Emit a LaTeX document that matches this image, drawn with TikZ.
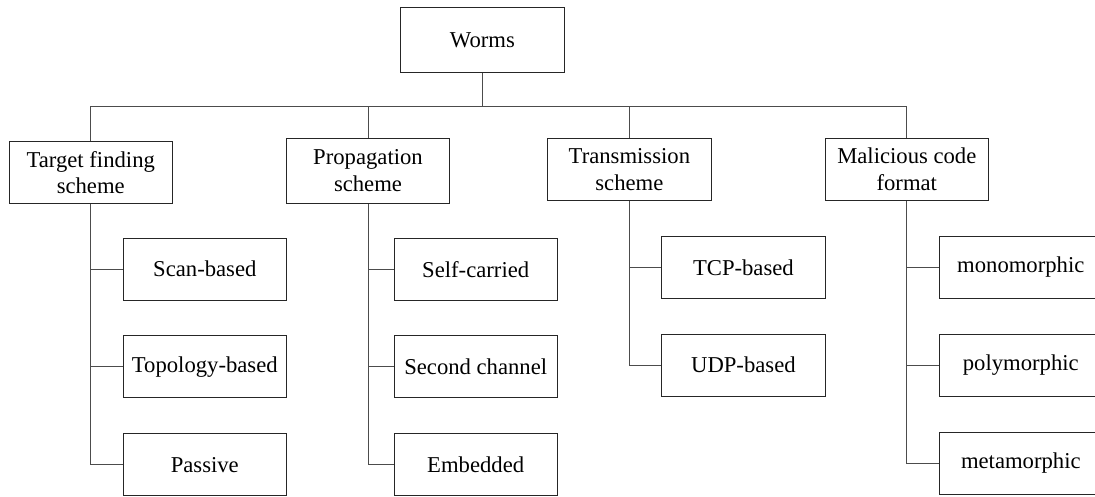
\documentclass[tikz,border=0pt]{standalone}
\usepackage{fontspec}
\setmainfont{Liberation Serif}
\begin{document}
\begin{tikzpicture}[x=0.75pt,y=-0.75pt,
  box/.style={draw=black!85, line width=0.75pt, minimum width=122.4pt, minimum height=46.5pt, inner sep=0pt, align=center, font=\fontsize{17}{20}\selectfont},
  link/.style={draw=black!70, line width=0.75pt}]
\useasboundingbox (0,0) rectangle (1095,496);
\begin{scope}
\clip (0,0) rectangle (1095,496);
\node[box, minimum width=122.5pt, minimum height=48.5pt] (worms) at (482.4,40.3) {Worms};
\node[box] (tf) at (90.75,172.7) {Target finding\\scheme};
\node[box, minimum height=49.2pt] (pr) at (368,170.85) {Propagation\\scheme};
\node[box] (tr) at (629.4,169.3) {Transmission\\scheme};
\node[box] (mc) at (906.8,169.3) {Malicious code\\format};
\coordinate (bus) at (0,106);

\node[box] (scan) at (204.8,269.2) {Scan-based};
\node[box] (topo) at (204.8,366.8) {Topology-based};
\node[box] (pass) at (204.8,464.7) {Passive};

\node[box] (self) at (475.7,269.2) {Self-carried};
\node[box] (sec) at (475.7,366.8) {Second channel};
\node[box] (emb) at (475.7,464.7) {Embedded};

\node[box] (tcp) at (743.4,267.3) {TCP-based};
\node[box] (udp) at (743.4,365.2) {UDP-based};

\node[box] (mono) at (1020.8,267.3) {monomorphic};
\node[box] (poly) at (1020.8,365.2) {polymorphic};
\node[box] (meta) at (1020.8,463.3) {metamorphic};

\draw[link] (worms.south) -- (worms.south |- bus);
\draw[link] (tf.north) -- (tf.north |- bus) -- (mc.north |- bus) -- (mc.north);
\draw[link] (pr.north) -- (pr.north |- bus);
\draw[link] (tr.north) -- (tr.north |- bus);

\draw[link] (tf.south) |- (pass.west);
\draw[link] (tf.south |- scan.west) -- (scan.west);
\draw[link] (tf.south |- topo.west) -- (topo.west);

\draw[link] (pr.south) |- (emb.west);
\draw[link] (pr.south |- self.west) -- (self.west);
\draw[link] (pr.south |- sec.west) -- (sec.west);

\draw[link] (tr.south) |- (udp.west);
\draw[link] (tr.south |- tcp.west) -- (tcp.west);

\draw[link] (mc.south) |- (meta.west);
\draw[link] (mc.south |- mono.west) -- (mono.west);
\draw[link] (mc.south |- poly.west) -- (poly.west);
\end{scope}
\end{tikzpicture}
\end{document}
